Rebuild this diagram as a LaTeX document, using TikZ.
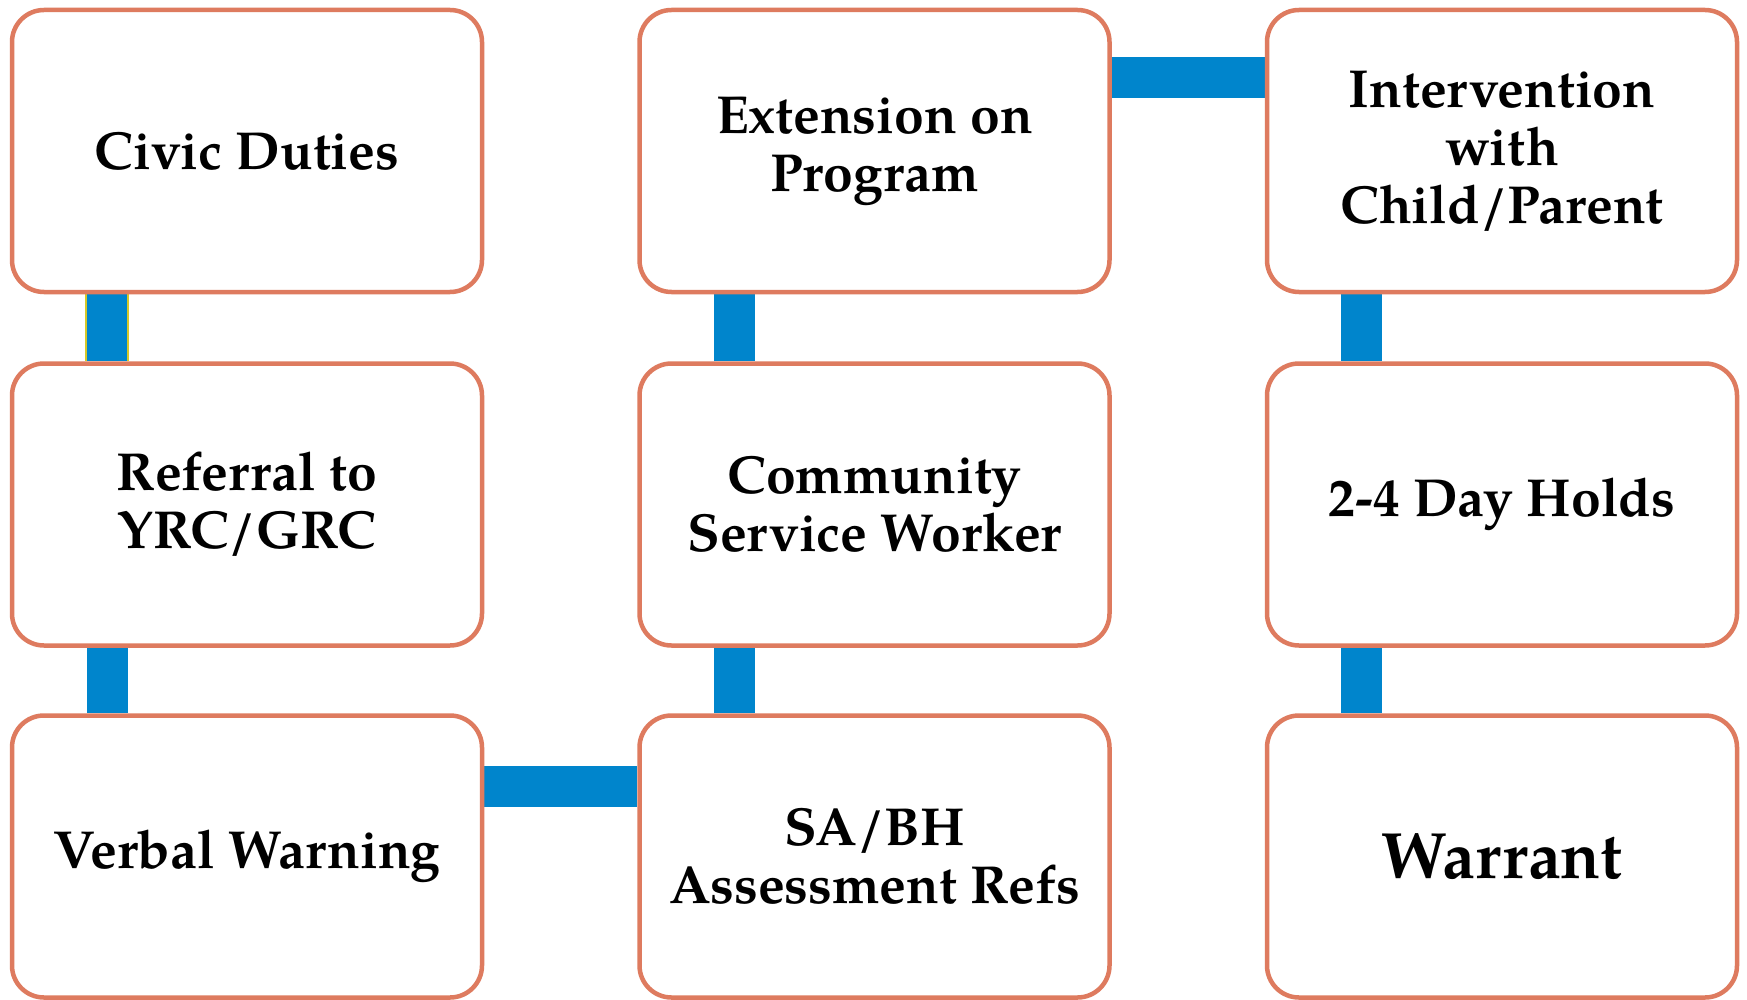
\documentclass[tikz,border=0pt]{standalone}
\usepackage{fontspec}
\setmainfont{TeX Gyre Pagella}
\pgfdeclarelayer{paper}
\pgfdeclarelayer{bg}
\pgfsetlayers{paper,bg,main}
\definecolor{boxline}{RGB}{222,123,95}
\definecolor{connblue}{RGB}{0,133,204}
\definecolor{edgeyellow}{RGB}{214,200,40}
\tikzset{
  box/.style={draw=boxline, line width=4.5pt, fill=white, rounded corners=32pt,
    minimum width=470pt, minimum height=282pt, inner sep=0pt, align=center,
    font=\fontsize{53.5}{58}\selectfont\bfseries},
  bigtext/.style={font=\fontsize{65.5}{70}\selectfont\bfseries},
  conn/.style={draw=connblue, line width=41pt, line cap=butt},
}
\begin{document}
\begin{tikzpicture}[x=1pt,y=-1pt]
\begin{pgfonlayer}{paper}
  \fill[white] (0,0) rectangle (1747,1000);
\end{pgfonlayer}
\useasboundingbox (0,0) rectangle (1747,1000);
% column centres 247, 874.5, 1502 ; row centres 151, 504.5, 856.5
\node[box] (civic) at (247,151) {Civic Duties};
\node[box] (extension) at (874.5,151) {Extension on\\Program};
\node[box] (intervention) at (1502,151) {Intervention\\with\\Child/Parent};
\node[box] (referral) at (247,504.5) {Referral to\\YRC/GRC};
\node[box] (community) at (874.5,504.5) {Community\\Service Worker};
\node[box] (holds) at (1502,504.5) {2-4 Day Holds};
\node[box] (verbal) at (247,856.5) {Verbal Warning};
\node[box] (sabh) at (874.5,856.5) {SA/BH\\Assessment Refs};
\node[box,bigtext] (warrant) at (1502,856.5) {Warrant};
\begin{pgfonlayer}{bg}
  \draw[conn] ([xshift=-140pt]civic.south) -- ([xshift=-140pt]referral.north);
  \draw[edgeyellow, line width=1.2pt] ([xshift=-161pt]civic.south) -- ([xshift=-161pt]referral.north)
        ([xshift=-119pt]civic.south) -- ([xshift=-119pt]referral.north);
  \draw[conn] ([xshift=-140pt]referral.south) -- ([xshift=-140pt]verbal.north);
  \draw[conn] ([yshift=70.5pt]verbal.east) -- ([yshift=70.5pt]sabh.west);
  \draw[conn] ([xshift=-140.5pt]sabh.north) -- ([xshift=-140.5pt]community.south);
  \draw[conn] ([xshift=-140.5pt]community.north) -- ([xshift=-140.5pt]extension.south);
  \draw[conn] ([yshift=73pt]extension.east) -- ([yshift=73pt]intervention.west);
  \draw[conn] ([xshift=-140.5pt]intervention.south) -- ([xshift=-140.5pt]holds.north);
  \draw[conn] ([xshift=-140.5pt]holds.south) -- ([xshift=-140.5pt]warrant.north);
\end{pgfonlayer}
\end{tikzpicture}
\end{document}
